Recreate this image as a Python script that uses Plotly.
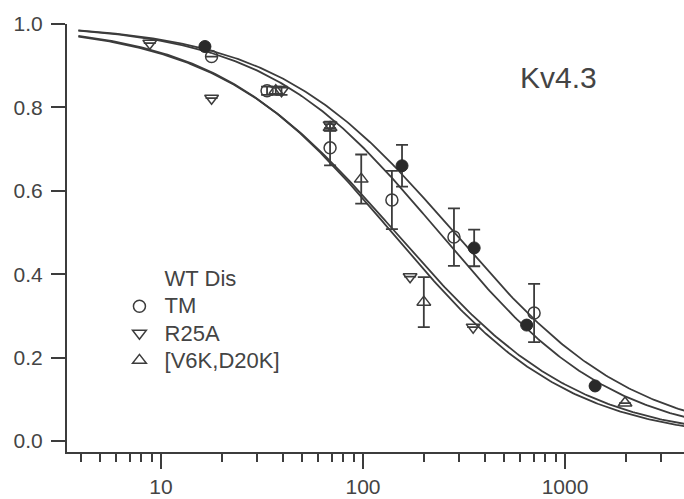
import numpy as np
import plotly.graph_objects as go

# ---- data ----
wt_x = [16.5, 156, 355, 646, 1409]
wt_y = [0.946, 0.660, 0.463, 0.278, 0.132]
wt_err = [None, 0.050, 0.044, None, None]

tm_x = [17.8, 33.5, 68.7, 139, 282, 703]
tm_y = [0.922, 0.840, 0.703, 0.578, 0.489, 0.307]
tm_err = [None, 0.010, 0.042, 0.070, 0.069, 0.070]

r25_x = [8.8, 17.8, 39.5, 68.7, 171, 351]
r25_y = [0.954, 0.822, 0.840, 0.758, 0.394, 0.273]
r25_err = [None, None, 0.010, 0.008, None, None]

v6_x = [37.0, 68.7, 98, 200, 1982]
v6_y = [0.840, 0.752, 0.628, 0.333, 0.091]
v6_err = [0.010, 0.008, 0.059, 0.060, None]

# Hill-fit parameters (IC50, slope)
fit_names = ["WT Dis", "TM", "R25A", "[V6K,D20K]"]
fit_ic50 = [282, 238, 145, 139]
fit_slope = [0.97, 1.0, 0.96, 0.99]
fit_xmin, fit_xmax = 3.9, 4500

x_ticks = [10, 100, 1000]
x_ticklabels = ["10", "100", "1000"]
y_ticks = [0.0, 0.2, 0.4, 0.6, 0.8, 1.0]
y_ticklabels = ["0.0", "0.2", "0.4", "0.6", "0.8", "1.0"]

INK = "#3c3c3c"
TXT = "#444444"
FONT = "Liberation Sans, Arial, sans-serif"

fig = go.Figure()

# fitted curves
xs = np.logspace(np.log10(fit_xmin), np.log10(fit_xmax), 300)
for k, n in zip(fit_ic50, fit_slope):
    fig.add_trace(go.Scatter(x=xs, y=1.0 / (1.0 + (xs / k) ** n), mode="lines",
                             line=dict(color=INK, width=1.8), showlegend=False,
                             hoverinfo="skip"))

def err(a):
    return dict(type="data", array=[v if v is not None else float("nan") for v in a],
                visible=True, color=INK, thickness=1.8, width=6)

def lname(s):
    return "\u00a0<span style='font-size:22px'>" + s + "</span>"

# legend-only entry for WT Dis (no visible symbol in the reference legend)
fig.add_trace(go.Scatter(x=[None], y=[None], mode="markers", name=lname(fit_names[0]),
                         marker=dict(symbol="circle", size=11, color="rgba(0,0,0,0)")))
fig.add_trace(go.Scatter(x=tm_x, y=tm_y, mode="markers", name=lname(fit_names[1]),
                         error_y=err(tm_err),
                         marker=dict(symbol="circle-open", size=12, color=INK,
                                     line=dict(width=1.5, color=INK))))
fig.add_trace(go.Scatter(x=r25_x, y=r25_y, mode="markers", name=lname(fit_names[2]),
                         error_y=err(r25_err),
                         marker=dict(symbol="triangle-down-open", size=12, color=INK,
                                     line=dict(width=1.5, color=INK))))
fig.add_trace(go.Scatter(x=v6_x, y=v6_y, mode="markers", name=lname(fit_names[3]),
                         error_y=err(v6_err),
                         marker=dict(symbol="triangle-up-open", size=12, color=INK,
                                     line=dict(width=1.5, color=INK))))
fig.add_trace(go.Scatter(x=wt_x, y=wt_y, mode="markers", name=fit_names[0], showlegend=False,
                         error_y=err(wt_err),
                         marker=dict(symbol="circle", size=12, color="#2a2a2a",
                                     line=dict(width=1, color="#2a2a2a"))))

fig.add_annotation(text="Kv4.3", x=0.797, y=0.876, xref="paper", yref="paper",
                   xanchor="center", yanchor="middle",
                   showarrow=False, font=dict(family=FONT, size=30, color=TXT))

fig.update_layout(
    width=684, height=499,
    margin=dict(l=67, r=0, t=24, b=47),
    paper_bgcolor="white", plot_bgcolor="white",
    font=dict(family=FONT, color=TXT, size=21),
    legend=dict(x=0.085, y=0.447, xanchor="left", yanchor="top",
                bgcolor="rgba(0,0,0,0)", font=dict(family=FONT, size=18.5, color=TXT),
                itemwidth=30, tracegroupgap=0),
    xaxis=dict(type="log", range=[0.5347, 3.589], showgrid=False, zeroline=False,
               showline=True, linecolor=INK, linewidth=2,
               tickmode="array", tickvals=x_ticks, ticktext=x_ticklabels,
               ticks="outside", ticklen=15, tickwidth=2, tickcolor=INK,
               tickfont=dict(family=FONT, size=21, color=TXT),
               minor=dict(ticks="outside", ticklen=8, tickwidth=2, tickcolor=INK,
                          dtick="D1", showgrid=False)),
    yaxis=dict(range=[-0.0264, 1.0], showgrid=False, zeroline=False,
               showline=True, linecolor=INK, linewidth=2,
               tickmode="array", tickvals=y_ticks, ticktext=y_ticklabels,
               ticks="outside", ticklen=14, tickwidth=2, tickcolor=INK,
               tickfont=dict(family=FONT, size=21, color=TXT),
               ticklabelstandoff=4),
)

fig.write_html("out.html")
